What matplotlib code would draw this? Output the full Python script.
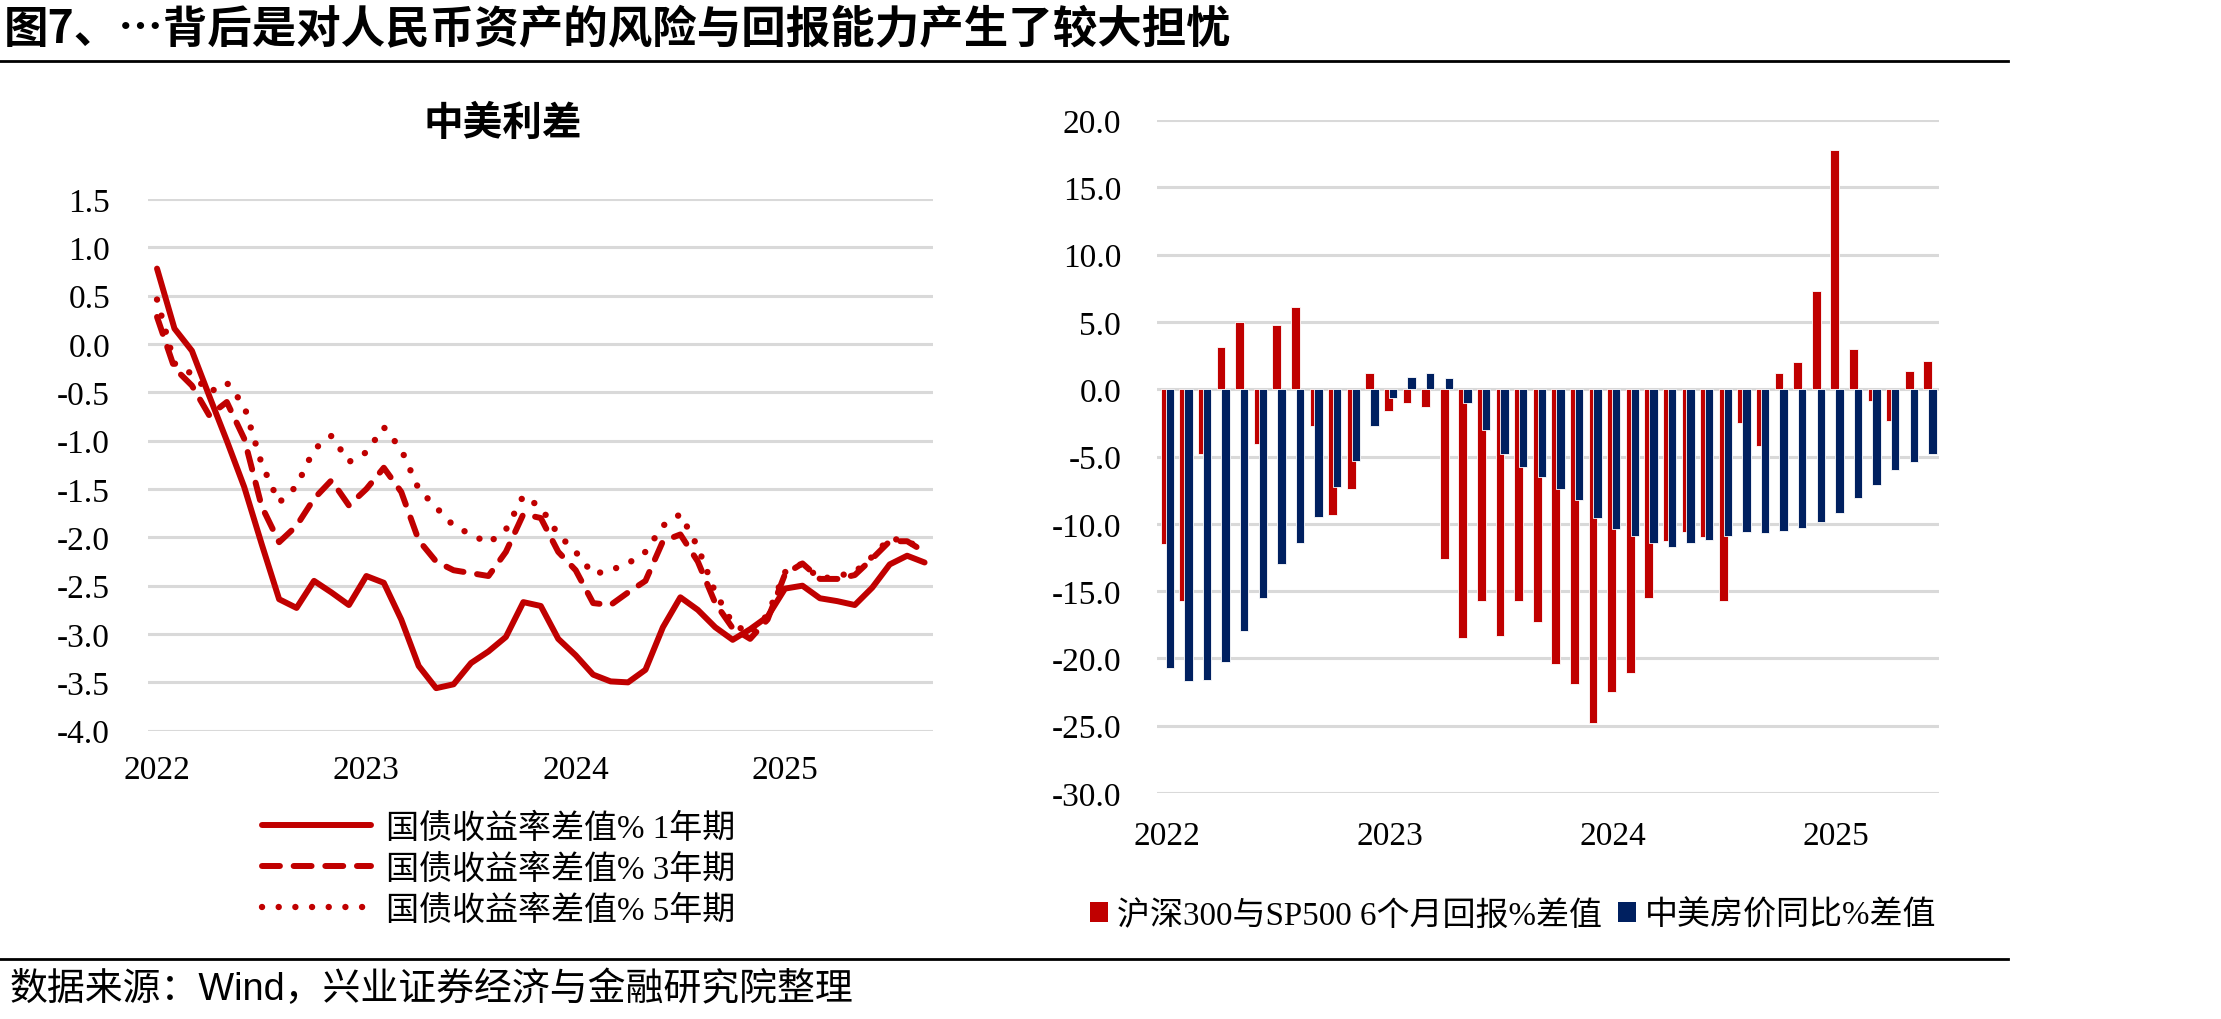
import matplotlib
matplotlib.use("Agg")
import matplotlib.pyplot as plt
from matplotlib.lines import Line2D
from matplotlib.patches import Patch
import numpy as np

# ---------------- data ----------------
# left: China-US government bond yield spread (%), monthly Jan 2022 - Sep 2025
spread_1y = [0.78, 0.16, -0.07, -0.54, -1.0, -1.48, -2.07, -2.64, -2.73, -2.45,
             -2.57, -2.7, -2.4, -2.47, -2.85, -3.33, -3.56, -3.52, -3.3, -3.18,
             -3.03, -2.67, -2.71, -3.05, -3.22, -3.42, -3.49, -3.5, -3.37, -2.93,
             -2.62, -2.75, -2.93, -3.06, -2.95, -2.82, -2.53, -2.5, -2.63, -2.66,
             -2.7, -2.52, -2.28, -2.19, -2.26]
spread_3y = [0.28, -0.25, -0.43, -0.74, -0.6, -0.98, -1.68, -2.05, -1.88, -1.6,
             -1.41, -1.67, -1.5, -1.28, -1.53, -2.03, -2.25, -2.34, -2.37, -2.4,
             -2.15, -1.76, -1.8, -2.15, -2.34, -2.68, -2.7, -2.57, -2.45, -2.04,
             -1.97, -2.25, -2.68, -2.94, -3.05, -2.85, -2.38, -2.27, -2.43, -2.43,
             -2.39, -2.22, -2.04, -2.04, -2.15]
spread_5y = [0.46, -0.2, -0.31, -0.5, -0.4, -0.64, -1.24, -1.64, -1.47, -1.09,
             -0.95, -1.22, -1.12, -0.86, -1.09, -1.5, -1.69, -1.88, -1.97, -2.06,
             -1.92, -1.57, -1.69, -1.97, -2.15, -2.38, -2.34, -2.27, -2.15, -1.88,
             -1.76, -2.1, -2.57, -2.89, -3.0, -2.8, -2.36, -2.27, -2.43, -2.4,
             -2.36, -2.2, -2.01, -2.04, -2.13]
line_labels = ["国债收益率差值% 1年期", "国债收益率差值% 3年期", "国债收益率差值% 5年期"]

# right: monthly Jan 2022 - Jun 2025
hs300_vs_sp500 = [-11.5, -15.7, -4.8, 3.1, 5.0, -4.1, 4.8, 6.1, -2.7, -9.35,
                  -7.4, 1.2, -1.6, -1.0, -1.3, -12.6, -18.5, -15.7, -18.3, -15.7,
                  -17.3, -20.4, -21.9, -24.8, -22.5, -21.1, -15.5, -11.3, -10.6, -11.0,
                  -15.7, -2.5, -4.2, 1.2, 2.0, 7.3, 17.8, 3.0, -0.9, -2.35,
                  1.35, 2.1]
house_price_gap = [-20.75, -21.7, -21.6, -20.3, -18.0, -15.5, -13.0, -11.4, -9.5, -7.3,
                   -5.3, -2.7, -0.65, 0.9, 1.2, 0.8, -1.0, -3.0, -4.8, -5.8,
                   -6.5, -7.4, -8.2, -9.6, -10.4, -10.9, -11.4, -11.7, -11.4, -11.2,
                   -10.9, -10.6, -10.7, -10.5, -10.3, -9.9, -9.2, -8.1, -7.1, -6.0,
                   -5.4, -4.8]
bar_labels = ["沪深300与SP500 6个月回报%差值", "中美房价同比%差值"]

year_labels = ["2022", "2023", "2024", "2025"]
year_pos = [0, 12, 24, 36]

RED = "#C00000"
BLUE = "#002060"
GRID = "#D9D9D9"
SERIF = ["Liberation Serif", "Noto Sans CJK SC"]
SANS = ["Noto Sans CJK SC", "DejaVu Sans"]

plt.rcParams["font.family"] = SERIF

W, H = 2221, 1020
fig = plt.figure(figsize=(W / 100, H / 100), dpi=100)

# ---------------- header / footer ----------------
fig.text(4 / W, 1 - 30 / H, "图7、…背后是对人民币资产的风险与回报能力产生了较大担忧",
         fontsize=32, fontweight="bold", family=SANS, ha="left", va="center")
fig.add_artist(Line2D([0, 2008 / W], [1 - 62 / H] * 2, color="black", lw=2))
fig.add_artist(Line2D([0, 2008 / W], [1 - 960 / H] * 2, color="black", lw=2))
fig.text(10 / W, 1 - 990 / H, "数据来源：Wind，兴业证券经济与金融研究院整理",
         fontsize=27.3, family=["Liberation Sans", "Noto Sans CJK SC"], ha="left", va="center")


def style(ax, pad_y, pad_x):
    for s in ax.spines.values():
        s.set_visible(False)
    ax.grid(axis="y", color=GRID, lw=2.2)
    ax.set_axisbelow(True)
    ax.tick_params(axis="y", length=0, labelsize=24, pad=pad_y)
    ax.tick_params(axis="x", length=0, labelsize=24, pad=pad_x)


# ---------------- left: yield spreads ----------------
ax1 = fig.add_axes([148.3 / W, 1 - 731.7 / H, (933.3 - 148.3) / W, (731.7 - 200) / H])
x1 = np.arange(len(spread_1y))
h1, = ax1.plot(x1, spread_1y, color=RED, lw=4.3, solid_joinstyle="round", solid_capstyle="round")
h2, = ax1.plot(x1, spread_3y, color=RED, lw=4.3, dashes=(3.0, 2.3), dash_capstyle="round")
h3, = ax1.plot(x1, spread_5y, color=RED, lw=4.6, dashes=(0.01, 2.6), dash_capstyle="round")
ax1.set_xlim(-0.5, len(spread_1y) - 0.5)
ax1.set_ylim(-4.0, 1.5)
yt1 = np.arange(-4.0, 1.51, 0.5)
ax1.set_yticks(yt1, [f"{v:.1f}" for v in yt1])
ax1.set_xticks(year_pos, year_labels)
style(ax1, 27.5, 17)

fig.text(503 / W, 1 - 123 / H, "中美利差", fontsize=28.5, fontweight="bold",
         family=SANS, ha="center", va="center")

fig.legend([h1, h2, h3], line_labels, loc="center left",
           bbox_to_anchor=(262 / W, 1 - 870 / H), frameon=False, fontsize=23.8,
           handlelength=3.3, handletextpad=0.45, labelspacing=0.3,
           borderpad=0, borderaxespad=0)

# ---------------- right: bars ----------------
ax2 = fig.add_axes([1157.3 / W, 1 - 794 / H, (1938.6 - 1157.3) / W, (794 - 121) / H])
x2 = np.arange(len(hs300_vs_sp500))
ax2.bar(x2 - 0.08, hs300_vs_sp500, width=0.47, color=RED, edgecolor="white", lw=0.6, zorder=2)
ax2.bar(x2 + 0.17, house_price_gap, width=0.45, color=BLUE, edgecolor="white", lw=0.6, zorder=3)
ax2.set_xlim(-0.5, len(hs300_vs_sp500) - 0.5)
ax2.set_ylim(-30, 20)
yt2 = np.arange(-30, 20.1, 5)
ax2.set_yticks(yt2, [f"{v:.1f}" for v in yt2])
ax2.set_xticks(year_pos, year_labels)
style(ax2, 26, 19.5)

fig.legend([Patch(facecolor=RED), Patch(facecolor=BLUE)], bar_labels, ncol=2,
           loc="center left", bbox_to_anchor=(1090 / W, 1 - 916 / H), frameon=False,
           fontsize=23.8, handlelength=0.55, handleheight=0.55, handletextpad=0.28,
           columnspacing=0.46, borderpad=0, borderaxespad=0)

fig.savefig("out.png", dpi=100)
